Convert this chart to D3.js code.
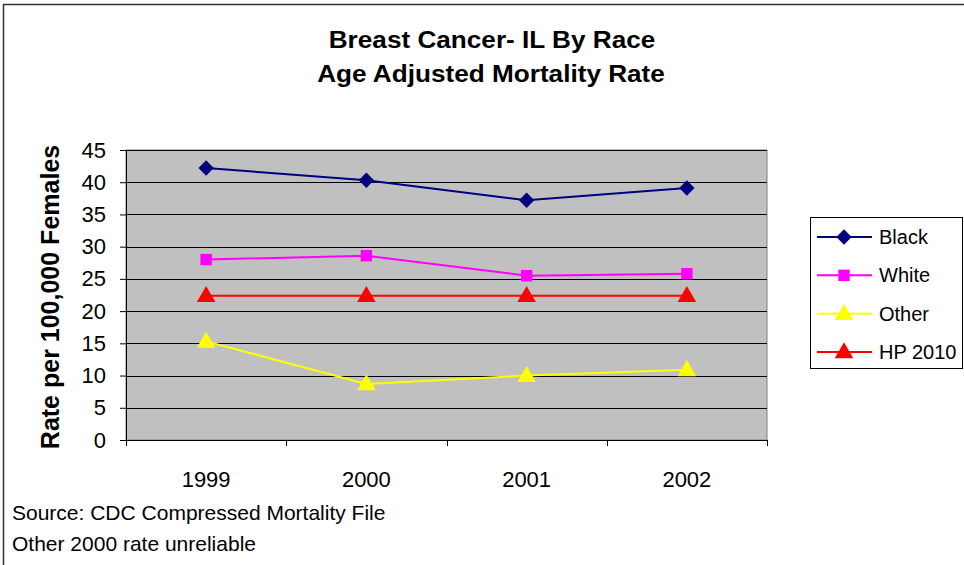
<!DOCTYPE html>
<html>
<head>
<meta charset="utf-8">
<script src="https://cdn.jsdelivr.net/npm/d3@7"></script>
<style>
    html, body { margin: 0; padding: 0; background: #fff; }
    svg { display: block; font-family: "Liberation Sans", Arial, sans-serif; }
</style>
</head>
<body>
<div id="chart"></div>
<script>
    // chart data
    const years = ['1999', '2000', '2001', '2002'];
    const black = [42.2, 40.3, 37.2, 39.1];
    const white = [28.0, 28.6, 25.5, 25.8];
    const other = [15.3, 8.7, 10.0, 10.9];
    const hp2010 = [22.4, 22.4, 22.4, 22.4];
    const yTicks = [0, 5, 10, 15, 20, 25, 30, 35, 40, 45];

    const seriesList = [
        { name: 'Black', values: black, color: '#000080', marker: 'diamond' },
        { name: 'White', values: white, color: '#FF00FF', marker: 'square' },
        { name: 'Other', values: other, color: '#FFFF00', marker: 'triangle' },
        { name: 'HP 2010', values: hp2010, color: '#FF0000', marker: 'triangle' },
    ];
    // draw order: HP first so the race series sit on top
    const drawOrder = [3, 2, 1, 0];

    const width = 964;
    const height = 565;
    const plot = { left: 126, right: 767, top: 150, bottom: 440 };

    const svg = d3.select('#chart')
        .append('svg')
        .attr('width', width)
        .attr('height', height);

    // outer chart border
    svg.append('rect')
        .attr('x', 3.5)
        .attr('y', 4.5)
        .attr('width', 1000)
        .attr('height', 600)
        .attr('fill', '#fff')
        .attr('stroke', '#333')
        .attr('stroke-width', 1.5);

    const x = d3.scaleBand()
        .domain(years)
        .range([plot.left, plot.right]);

    const y = d3.scaleLinear()
        .domain([0, 45])
        .range([plot.bottom, plot.top]);

    const cx = (d, i) => x(years[i]) + x.bandwidth() / 2;

    // plot area background
    svg.append('rect')
        .attr('x', plot.left)
        .attr('y', plot.top)
        .attr('width', plot.right - plot.left)
        .attr('height', plot.bottom - plot.top)
        .attr('fill', '#C0C0C0')
        .attr('stroke', '#808080')
        .attr('stroke-width', 1);

    // gridlines
    svg.append('g')
        .selectAll('line')
        .data(yTicks.filter(t => t > 0))
        .enter()
        .append('line')
        .attr('x1', plot.left)
        .attr('x2', plot.right)
        .attr('y1', d => Math.round(y(d)) + 0.5)
        .attr('y2', d => Math.round(y(d)) + 0.5)
        .attr('stroke', '#000')
        .attr('stroke-width', 1);

    // y axis
    const yAxis = svg.append('g')
        .attr('transform', `translate(${plot.left},0)`)
        .call(d3.axisLeft(y).tickValues(yTicks).tickSize(6).tickPadding(14));
    yAxis.select('.domain').attr('stroke', '#000');
    yAxis.selectAll('.tick line').attr('stroke', '#000');
    yAxis.selectAll('text')
        .style('font-family', '"Liberation Sans", Arial, sans-serif')
        .style('font-size', '22px')
        .attr('fill', '#000');

    // x axis (category boundaries as ticks)
    svg.append('line')
        .attr('x1', plot.left)
        .attr('x2', plot.right)
        .attr('y1', plot.bottom + 0.5)
        .attr('y2', plot.bottom + 0.5)
        .attr('stroke', '#000');
    const bounds = years.map(d => x(d)).concat([plot.right]);
    svg.append('g')
        .selectAll('line')
        .data(bounds)
        .enter()
        .append('line')
        .attr('x1', d => Math.round(d) + 0.5)
        .attr('x2', d => Math.round(d) + 0.5)
        .attr('y1', plot.bottom)
        .attr('y2', plot.bottom + 6)
        .attr('stroke', '#000');
    svg.append('g')
        .selectAll('text')
        .data(years)
        .enter()
        .append('text')
        .attr('x', d => x(d) + x.bandwidth() / 2)
        .attr('y', 487)
        .attr('text-anchor', 'middle')
        .style('font-size', '22px')
        .text(d => d);

    // markers
    function markerPath(type, size) {
        if (type === 'diamond') return d3.symbol().type(d3.symbolDiamond2).size(size)();
        if (type === 'square') return d3.symbol().type(d3.symbolSquare).size(size)();
        return d3.symbol().type(d3.symbolTriangle).size(size)();
    }
    const markerSize = { diamond: 150, square: 130, triangle: 150 };

    const line = d3.line()
        .x(cx)
        .y(d => y(d));

    drawOrder.forEach(k => {
        const s = seriesList[k];
        const g = svg.append('g');
        g.append('path')
            .datum(s.values)
            .attr('d', line)
            .attr('fill', 'none')
            .attr('stroke', s.color)
            .attr('stroke-width', 2);
        g.selectAll('path.mk')
            .data(s.values)
            .enter()
            .append('path')
            .attr('class', 'mk')
            .attr('d', markerPath(s.marker, markerSize[s.marker]))
            .attr('transform', (d, i) => `translate(${cx(d, i)},${y(d) + (s.marker === 'triangle' ? 1 : 0)})`)
            .attr('fill', s.color);
    });

    // titles
    const title = svg.append('g').attr('font-weight', 'bold');
    title.append('text')
        .attr('transform', 'translate(492,48) scale(1.09,1)')
        .attr('text-anchor', 'middle')
        .style('font-size', '24px')
        .text('Breast Cancer- IL By Race');
    title.append('text')
        .attr('transform', 'translate(491,82) scale(1.09,1)')
        .attr('text-anchor', 'middle')
        .style('font-size', '24px')
        .text('Age Adjusted Mortality Rate');

    svg.append('text')
        .attr('transform', 'translate(59,297) rotate(-90)')
        .attr('text-anchor', 'middle')
        .attr('font-weight', 'bold')
        .style('font-size', '25px')
        .text('Rate per 100,000 Females');

    // footnotes
    svg.append('text')
        .attr('x', 12)
        .attr('y', 520)
        .style('font-size', '21px')
        .text('Source: CDC Compressed Mortality File');
    svg.append('text')
        .attr('x', 12)
        .attr('y', 551)
        .style('font-size', '21px')
        .text('Other 2000 rate unreliable');

    // legend
    const legend = svg.append('g');
    legend.append('rect')
        .attr('x', 810.5)
        .attr('y', 217.5)
        .attr('width', 152)
        .attr('height', 151)
        .attr('fill', '#fff')
        .attr('stroke', '#000')
        .attr('stroke-width', 1);

    const legendY = d3.scalePoint()
        .domain(seriesList.map(s => s.name))
        .range([237, 352]);

    seriesList.forEach(s => {
        const ly = legendY(s.name);
        legend.append('line')
            .attr('x1', 817)
            .attr('x2', 872)
            .attr('y1', ly)
            .attr('y2', ly)
            .attr('stroke', s.color)
            .attr('stroke-width', 2);
        legend.append('path')
            .attr('d', markerPath(s.marker, markerSize[s.marker]))
            .attr('transform', `translate(844,${ly + (s.marker === 'triangle' ? 1 : 0)})`)
            .attr('fill', s.color);
        legend.append('text')
            .attr('x', 879)
            .attr('y', ly + 7)
            .style('font-size', '20px')
            .text(s.name);
    });
</script>
</body>
</html>
